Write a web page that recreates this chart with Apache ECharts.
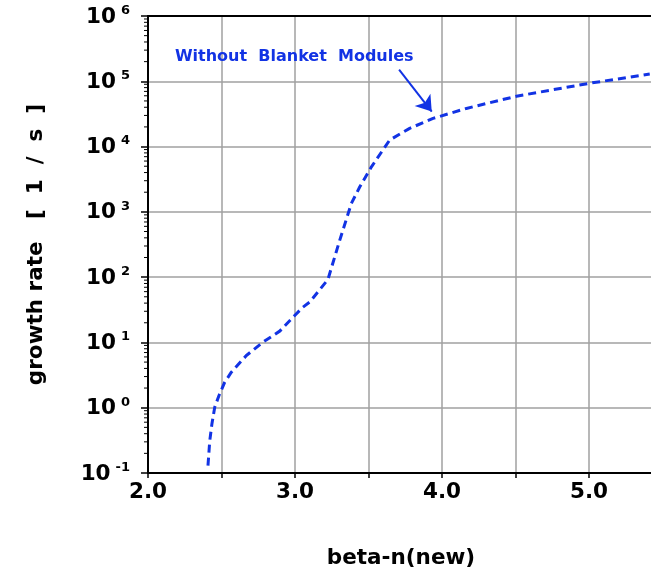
<!DOCTYPE html>
<html>
<head>
<meta charset="utf-8">
<script src="https://cdn.jsdelivr.net/npm/echarts@6/dist/echarts.min.js"></script>
<style>
  html, body { margin: 0; padding: 0; background: #fff; }
  #chart { width: 651px; height: 569px; }
</style>
</head>
<body>
<div id="chart"></div>
<script>
// beta-n values and growth rates (1/s) along the curve
const betaN = [2.408, 2.42, 2.435, 2.454, 2.483, 2.522, 2.567, 2.669, 2.782, 2.896, 2.998, 3.054, 3.10, 3.224, 3.304, 3.383, 3.44, 3.52, 3.644, 3.78, 3.939, 4.166, 4.506, 5.0, 5.413];
const growthRate = [0.13, 0.31, 0.57, 1.02, 1.54, 2.46, 3.5, 6.3, 10.1, 14.9, 25.9, 34.7, 41.5, 92, 366, 1340, 2400, 4900, 12600, 19000, 27000, 38400, 59000, 93000, 129000];

// x-axis tick labels shown on whole numbers
const xTickLabels = ['2.0', '3.0', '4.0', '5.0'];

// annotation text and where its arrow starts / ends (data units)
const noteText = 'Without  Blanket  Modules';
const noteAt = [2.995, 234000];
const arrowFrom = [3.708, 151000];
const arrowTo = [3.93, 34300];

const BLUE = '#1233e4';
const FONT = 'DejaVu Sans';

// log-scale minor ticks (2..9 within each decade)
const minorTicks = [];
for (let e = -1; e < 6; e++) {
  for (let m = 2; m <= 9; m++) minorTicks.push([2.0, m * Math.pow(10, e)]);
}

const curve = betaN.map((x, i) => [x, growthRate[i]]);

const chart = echarts.init(document.getElementById('chart'), null, { renderer: 'canvas' });

const X_MAX = 5.442;

chart.setOption({
  animation: false,
  backgroundColor: '#fff',
  grid: { left: 148, right: -3, top: 16, bottom: 96, containLabel: false, outerBoundsMode: 'none' },
  xAxis: [
    {
      type: 'value', min: 2.0, max: X_MAX, interval: 0.5,
      name: 'beta-n(new)', nameLocation: 'middle', nameGap: 74,
      nameTextStyle: { fontFamily: FONT, fontSize: 21.5, fontWeight: 'bold', color: '#000' },
      axisLine: { lineStyle: { color: '#000', width: 2 } },
      axisTick: { show: true, inside: false, length: 5, lineStyle: { color: '#000', width: 1.5 } },
      axisLabel: {
        margin: 8, fontFamily: FONT, fontSize: 21.5, fontWeight: 'bold', color: '#000',
        showMaxLabel: false,
        formatter: v => {
          const r = Math.round(v);
          return Math.abs(v - r) < 1e-9 ? (xTickLabels[r - 2] || '') : '';
        }
      },
      splitLine: { show: true, lineStyle: { color: '#a0a0a0', width: 1.5 } }
    },
    {
      type: 'value', min: 2.0, max: X_MAX, position: 'top',
      axisLine: { show: true, onZero: false, lineStyle: { color: '#000', width: 2 } },
      axisTick: { show: false }, axisLabel: { show: false }, splitLine: { show: false }
    }
  ],
  yAxis: {
    type: 'log', logBase: 10, min: 0.1, max: 1e6, splitNumber: 7,
    name: 'growth rate   [  1  /  s  ]', nameLocation: 'middle', nameGap: 101, nameRotate: 90,
    nameTextStyle: { fontFamily: FONT, fontSize: 21.5, fontWeight: 'bold', color: '#000' },
    axisLine: { show: true, lineStyle: { color: '#000', width: 2 } },
    axisTick: { show: true, inside: false, length: 7, lineStyle: { color: '#000', width: 1.5 } },
    axisLabel: {
      margin: 18,
      formatter: v => '{b|10}{e|' + Math.round(Math.log10(v)) + '}',
      rich: {
        b: { fontFamily: FONT, fontSize: 21.5, fontWeight: 'bold', color: '#000', lineHeight: 24, verticalAlign: 'bottom' },
        e: { fontFamily: FONT, fontSize: 13, fontWeight: 'bold', color: '#000', lineHeight: 14, verticalAlign: 'top', padding: [0, 0, 0, 5] }
      }
    },
    splitLine: { show: true, lineStyle: { color: '#a0a0a0', width: 1.5 } }
  },
  series: [
    {
      type: 'line', data: curve, showSymbol: false, smooth: false,
      lineStyle: { color: BLUE, width: 3, type: [8, 5] },
      z: 5,
      markLine: {
        silent: true, animation: false,
        symbol: ['none', 'arrow'], symbolSize: 15,
        label: { show: false },
        lineStyle: { color: BLUE, width: 2, type: 'solid' },
        data: [[{ coord: arrowFrom }, { coord: arrowTo }]]
      },
      markPoint: {
        silent: true, animation: false,
        symbol: 'rect', symbolSize: 0,
        label: {
          show: true, position: 'inside', formatter: noteText,
          fontFamily: FONT, fontSize: 16, fontWeight: 'bold', color: BLUE
        },
        data: [{ coord: noteAt }]
      }
    },
    {
      type: 'custom', data: minorTicks, silent: true, clip: false,
      encode: { x: 0, y: 1 },
      renderItem: (params, api) => {
        const p = api.coord([api.value(0), api.value(1)]);
        return {
          type: 'line',
          shape: { x1: p[0] - 4, y1: p[1], x2: p[0], y2: p[1] },
          style: { stroke: '#000', lineWidth: 1 }
        };
      },
      z: 6
    }
  ]
});
</script>
</body>
</html>
